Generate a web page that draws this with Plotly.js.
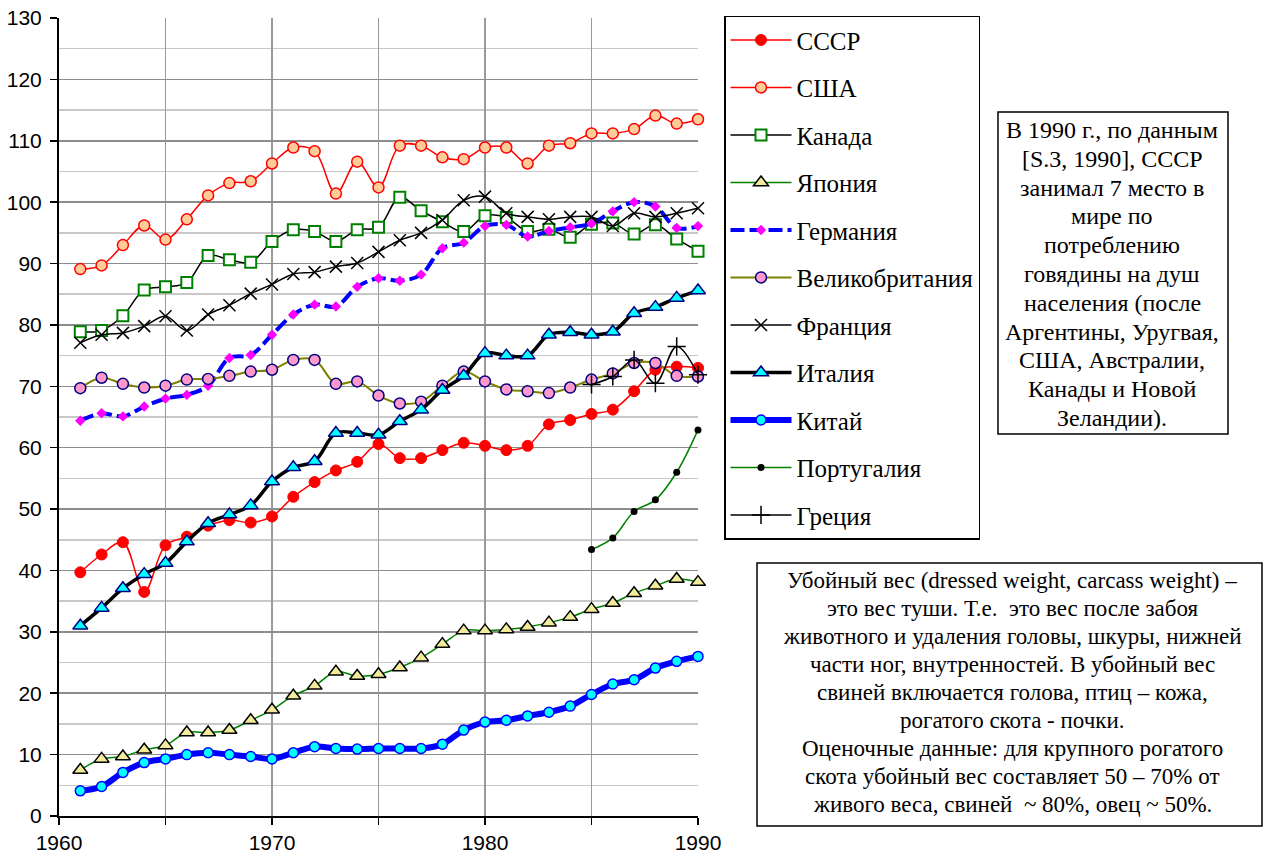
<!DOCTYPE html>
<html>
<head>
<meta charset="utf-8">
<script src="https://cdn.plot.ly/plotly-3.0.1.min.js"></script>
<style>html,body{margin:0;padding:0;background:#fff;}#chart{width:1269px;height:859px;}</style>
</head>
<body>
<div id="chart"></div>
<script>
// ---- data ----
const years = [1961,1962,1963,1964,1965,1966,1967,1968,1969,1970,1971,1972,1973,1974,1975,1976,1977,1978,1979,1980,1981,1982,1983,1984,1985,1986,1987,1988,1989,1990];
const yearsLate = [1985,1986,1987,1988,1989,1990];

const ussr    = [39.7,42.6,44.6,36.5,44.1,45.5,47.3,48.2,47.8,48.8,52.0,54.4,56.3,57.7,60.6,58.3,58.3,59.6,60.8,60.3,59.6,60.3,63.8,64.5,65.5,66.2,69.2,72.7,73.2,73.0];
const usa     = [89.1,89.7,93.0,96.2,93.9,97.2,101.1,103.1,103.4,106.3,108.9,108.3,101.4,106.6,102.4,109.2,109.2,107.3,107.0,108.9,108.9,106.3,109.2,109.6,111.2,111.2,111.9,114.1,112.8,113.5];
const canada  = [78.9,79.1,81.5,85.7,86.2,86.9,91.3,90.6,90.2,93.6,95.5,95.2,93.6,95.5,95.9,100.8,98.6,96.8,95.2,97.8,97.5,95.2,95.6,94.3,96.4,96.6,94.8,96.3,94.0,92.0];
const japan   = [7.5,9.3,9.7,10.8,11.5,13.6,13.6,14.0,15.6,17.3,19.6,21.2,23.5,22.8,23.1,24.2,25.8,28.0,30.2,30.2,30.4,30.8,31.5,32.4,33.7,34.7,36.3,37.5,38.6,38.1];
const germany = [64.4,65.6,65.1,66.7,68.0,68.6,70.1,74.6,75.1,78.4,81.7,83.3,83.0,86.2,87.6,87.2,88.2,92.5,93.4,96.1,96.3,94.4,95.3,95.9,96.5,98.5,100.0,99.3,95.8,96.1];
const uk      = [69.7,71.4,70.4,69.8,70.1,71.1,71.2,71.7,72.4,72.7,74.3,74.3,70.4,70.8,68.5,67.2,67.5,70.1,72.4,70.8,69.5,69.2,68.9,69.8,71.1,72.1,73.8,73.8,71.7,71.6];
const france  = [77.1,78.4,78.7,79.8,81.4,79.1,81.7,83.2,85.1,86.6,88.3,88.6,89.5,90.1,91.9,93.8,95.0,97.1,100.3,100.9,98.2,97.6,97.2,97.6,97.6,96.1,98.2,97.6,98.2,99.0];
const italy   = [31.0,33.9,37.1,39.4,41.2,44.7,47.7,49.1,50.6,54.5,56.8,57.8,62.4,62.4,62.1,64.3,66.2,69.4,71.7,75.4,75.0,75.0,78.4,78.8,78.4,78.9,81.9,82.9,84.4,85.6];
const china   = [4.1,4.8,7.1,8.7,9.3,10.0,10.3,10.0,9.7,9.3,10.3,11.3,11.0,10.9,11.0,11.0,11.0,11.7,14.0,15.3,15.6,16.3,16.9,17.9,19.8,21.5,22.2,24.1,25.2,26.0];
const portugal= [43.4,45.3,49.6,51.5,56.0,62.9];
const greece  = [70.3,71.6,74.3,70.5,76.5,71.9];

const seriesNames = ['СССР','США','Канада','Япония','Германия','Великобритания','Франция','Италия','Китай','Португалия','Греция'];
const xTickVals = [1960,1965,1970,1975,1980,1985,1990];
const xTickText = ['1960','','1970','','1980','','1990'];

const note1 = ['В 1990 г., по данным','[S.3, 1990], СССР','занимал 7 место в','мире по','потреблению','говядины на душ','населения (после','Аргентины, Уругвая,','США, Австралии,','Канады и Новой','Зеландии).'];
const note2 = ['Убойный вес (dressed weight, carcass weight) –','это вес туши. Т.е.  это вес после забоя','животного и удаления головы, шкуры, нижней','части ног, внутренностей. В убойный вес','свиней включается голова, птиц – кожа,','рогатого скота - почки.','Оценочные данные: для крупного рогатого','скота убойный вес составляет 50 – 70% от','живого веса, свиней  ~ 80%, овец ~ 50%.'];

// ---- geometry helpers (pixel -> paper) ----
const L = 59, R = 698, T = 18, B = 816;
const px2x = p => (p - L) / (R - L);
const py2y = p => (B - p) / (B - T);

function tr(i, x, y, line, marker) {
  return {
    type: 'scatter', mode: 'lines+markers', x: x, y: y,
    name: seriesNames[i], legendgroup: 'g' + i, cliponaxis: false,
    line: Object.assign({shape: 'spline', smoothing: 1}, line),
    marker: marker
  };
}

const traces = [
  tr(0, years, ussr, {color: '#ff0000', width: 1.5}, {symbol: 'circle', size: 11, color: '#ff0000', line: {color: '#ff0000', width: 1}}),
  tr(1, years, usa, {color: '#ff0000', width: 1.5}, {symbol: 'circle', size: 11, color: '#ffcc99', line: {color: '#ff0000', width: 1.5}}),
  tr(2, years, canada, {color: '#000000', width: 1.5}, {symbol: 'square', size: 11, color: '#ffffff', line: {color: '#008000', width: 2}}),
  tr(3, years, japan, {color: '#008000', width: 1.5}, {symbol: 'triangle-up', size: 13, color: '#f2ec9a', line: {color: '#000000', width: 1.5}}),
  tr(4, years, germany, {color: '#0000ff', width: 4, dash: '14px,5px'}, {symbol: 'diamond', size: 8, color: '#ff00ff', line: {width: 0}}),
  tr(5, years, uk, {color: '#808000', width: 2}, {symbol: 'circle', size: 11, color: '#ff99cc', line: {color: '#000080', width: 1.5}}),
  tr(6, years, france, {color: '#000000', width: 1.5}, {symbol: 'x-thin-open', size: 12, color: '#000000', line: {color: '#000000', width: 1.5}}),
  tr(7, years, italy, {color: '#000000', width: 3.5}, {symbol: 'triangle-up', size: 13, color: '#00ffff', line: {color: '#000080', width: 1.5}}),
  tr(8, years, china, {color: '#0000ff', width: 6}, {symbol: 'circle', size: 10, color: '#00ffff', line: {color: '#0000ff', width: 1.5}}),
  tr(9, yearsLate, portugal, {color: '#008000', width: 1.5}, {symbol: 'circle', size: 7, color: '#000000', line: {width: 0}}),
  tr(10, yearsLate, greece, {color: '#000000', width: 1.5}, {symbol: 'cross-thin-open', size: 13, color: '#000000', line: {color: '#000000', width: 1.5}})
];

const tickFont = {family: 'Liberation Sans, Arial, sans-serif', size: 21, color: '#000'};
const serif = 'Liberation Serif, Times New Roman, serif';

const annotations = [];
note1.forEach((t, k) => annotations.push({
  xref: 'paper', yref: 'paper', x: px2x(1112), y: py2y(130 + k * 28.8),
  xanchor: 'center', yanchor: 'middle', showarrow: false, text: t,
  font: {family: serif, size: 24, color: '#000'}
}));
note2.forEach((t, k) => annotations.push({
  xref: 'paper', yref: 'paper', x: px2x(1012), y: py2y(580 + k * 28.1),
  xanchor: 'center', yanchor: 'middle', showarrow: false, text: t,
  font: {family: serif, size: 23, color: '#000'}
}));

const layout = {
  width: 1269, height: 859,
  margin: {l: L, r: 1269 - R, t: T, b: 859 - B, pad: 0},
  paper_bgcolor: '#ffffff', plot_bgcolor: '#ffffff',
  showlegend: true,
  xaxis: {
    range: [1960, 1990], tickmode: 'array', tickvals: xTickVals, ticktext: xTickText,
    ticks: 'outside', ticklen: 7, tickwidth: 1.5, tickcolor: '#000',
    showline: true, linecolor: '#000', linewidth: 2,
    showgrid: true, gridcolor: '#9a9a9a', gridwidth: 1.5, zeroline: false,
    tickfont: tickFont, ticklabelstandoff: 0, fixedrange: true
  },
  yaxis: {
    range: [0, 130], dtick: 10, tick0: 0,
    ticks: 'outside', ticklen: 7, tickwidth: 1.5, tickcolor: '#000',
    showline: true, linecolor: '#000', linewidth: 2,
    showgrid: true, gridcolor: '#8c8c8c', gridwidth: 1.5, zeroline: false,
    minor: {dtick: 5, showgrid: true, gridcolor: '#c8c8c8', gridwidth: 1.5, ticks: ''},
    tickfont: tickFont, ticklabelstandoff: 4, fixedrange: true
  },
  legend: {
    x: px2x(724), xanchor: 'left', y: py2y(15.7), yanchor: 'top',
    bgcolor: '#ffffff', bordercolor: '#000', borderwidth: 1.5,
    font: {family: serif, size: 25, color: '#000'},
    traceorder: 'grouped', tracegroupgap: 12, itemwidth: 61, maxheight: 800
  },
  shapes: [
    {type: 'rect', xref: 'paper', yref: 'paper', x0: px2x(998), x1: px2x(1228), y0: py2y(112), y1: py2y(434), line: {color: '#000', width: 1.5}, fillcolor: 'rgba(0,0,0,0)'},
    {type: 'rect', xref: 'paper', yref: 'paper', x0: px2x(757), x1: px2x(1262), y0: py2y(563), y1: py2y(826), line: {color: '#000', width: 1.5}, fillcolor: 'rgba(0,0,0,0)'}
  ],
  annotations: annotations
};

Plotly.newPlot('chart', traces, layout, {displayModeBar: false, staticPlot: true});
</script>
</body>
</html>
